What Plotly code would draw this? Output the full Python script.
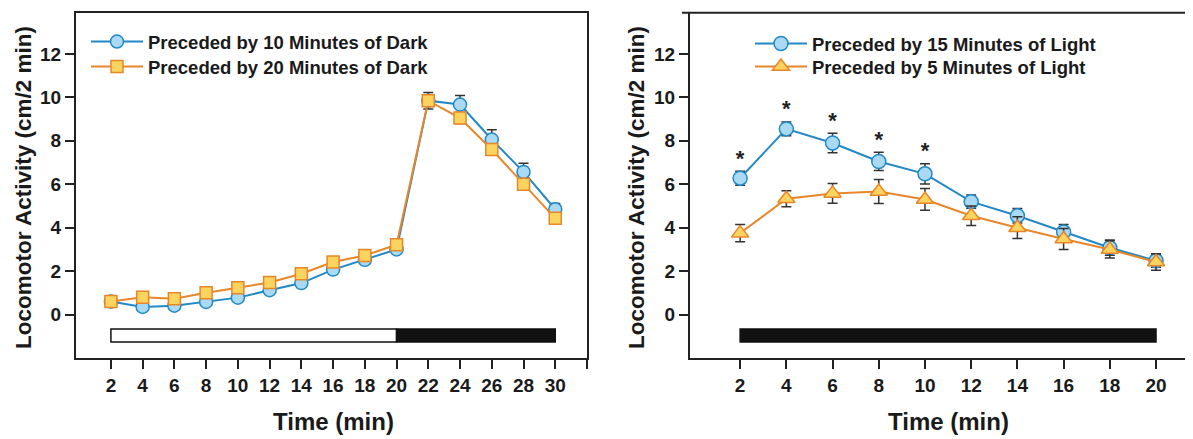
import plotly.graph_objects as go

# ---------------- data ----------------
time_left = [2, 4, 6, 8, 10, 12, 14, 16, 18, 20, 22, 24, 26, 28, 30]
dark10_mean = [0.60, 0.35, 0.41, 0.58, 0.78, 1.12, 1.45, 2.07, 2.52, 3.00, 9.85, 9.67, 8.06, 6.57, 4.85]
dark10_err = [0.10, 0.10, 0.10, 0.10, 0.10, 0.12, 0.12, 0.12, 0.12, 0.12, 0.38, 0.42, 0.45, 0.40, 0.26]
dark20_mean = [0.60, 0.80, 0.73, 1.00, 1.23, 1.48, 1.88, 2.42, 2.72, 3.22, 9.85, 9.05, 7.60, 6.00, 4.43]
dark20_err = [0.10, 0.10, 0.10, 0.10, 0.10, 0.10, 0.12, 0.12, 0.12, 0.15, 0.25, 0.25, 0.25, 0.25, 0.20]

time_right = [2, 4, 6, 8, 10, 12, 14, 16, 18, 20]
light15_mean = [6.28, 8.55, 7.90, 7.05, 6.48, 5.20, 4.55, 3.80, 3.08, 2.48]
light15_err = [0.32, 0.32, 0.45, 0.42, 0.47, 0.30, 0.33, 0.35, 0.35, 0.30]
light5_mean = [3.75, 5.33, 5.58, 5.67, 5.30, 4.55, 4.00, 3.48, 3.00, 2.42]
light5_err = [0.40, 0.37, 0.45, 0.55, 0.50, 0.45, 0.50, 0.48, 0.40, 0.38]
signif_times = [2, 4, 6, 8, 10]

left_ticks = [2, 4, 6, 8, 10, 12, 14, 16, 18, 20, 22, 24, 26, 28, 30]
right_ticks = [2, 4, 6, 8, 10, 12, 14, 16, 18, 20]
y_ticks = [0, 2, 4, 6, 8, 10, 12]

# lighting phase bars: start, end, colour
left_phase_start = [2, 20]
left_phase_end = [20, 30]
left_phase_color = ["white", "#111111"]
right_phase_start = [2]
right_phase_end = [20]
right_phase_color = ["#111111"]

# ---------------- style ----------------
PAGE_MARGIN = 8            # default body margin of the page
W, H = 1193 - PAGE_MARGIN, 439 - PAGE_MARGIN
FONT = "Liberation Sans, Arial, sans-serif"
AX = "#222222"
TXT = "#1a1a1a"
BLUE_LINE = "#2288c6"
BLUE_FILL = "#a9d9f3"
ORANGE_LINE = "#e8862a"
YELLOW_FILL = "#fbd35f"
ERR = "#333333"


def px(x):
    """page pixel x -> paper fraction"""
    return (x - PAGE_MARGIN) / W


def py(y):
    """page pixel y -> paper fraction"""
    return 1 - (y - PAGE_MARGIN) / H


fig = go.Figure()


def series(x, y, e, name, symbol, size, fill, line, xa, ya, legend):
    fig.add_trace(go.Scatter(
        x=x, y=y, name=name, mode="lines+markers",
        line=dict(color=line, width=2),
        marker=dict(symbol=symbol, size=size, color=fill, line=dict(color=line, width=1.5)),
        error_y=dict(type="data", array=e, visible=True, color=ERR, thickness=1.5, width=5),
        xaxis=xa, yaxis=ya, legend=legend,
    ))


def phase_bar(starts, ends, colors, xa, ya):
    fig.add_trace(go.Bar(
        orientation="h",
        base=starts,
        x=[e - s for s, e in zip(starts, ends)],
        y=[-0.96] * len(starts),
        width=0.6,
        marker=dict(color=colors, line=dict(color="#111111", width=1.5)),
        showlegend=False, hoverinfo="skip",
        xaxis=xa, yaxis=ya,
    ))


# left panel
phase_bar(left_phase_start, left_phase_end, left_phase_color, "x", "y")
series(time_left, dark10_mean, dark10_err, "Preceded by 10 Minutes of Dark",
       "circle", 13, BLUE_FILL, BLUE_LINE, "x", "y", "legend")
series(time_left, dark20_mean, dark20_err, "Preceded by 20 Minutes of Dark",
       "square", 12, YELLOW_FILL, ORANGE_LINE, "x", "y", "legend2")

# right panel
phase_bar(right_phase_start, right_phase_end, right_phase_color, "x2", "y2")
series(time_right, light15_mean, light15_err, "Preceded by 15 Minutes of Light",
       "circle", 14, BLUE_FILL, BLUE_LINE, "x2", "y2", "legend3")
series(time_right, light5_mean, light5_err, "Preceded by 5 Minutes of Light",
       "triangle-up", 15, YELLOW_FILL, ORANGE_LINE, "x2", "y2", "legend4")

star_y = [light15_mean[time_right.index(t)] + light15_err[time_right.index(t)] for t in signif_times]
fig.add_trace(go.Scatter(
    x=signif_times, y=star_y, mode="text", text=["*"] * len(signif_times),
    textposition="top center",
    textfont=dict(family=FONT, size=22, color="#222222", weight="bold"),
    showlegend=False, hoverinfo="skip", xaxis="x2", yaxis="y2",
))

tickfont = dict(family=FONT, size=19, color=TXT, weight="bold")
common_y = dict(
    range=[-2, 13.9], tickvals=y_ticks, showline=True, linecolor=AX, linewidth=2,
    ticks="outside", ticklen=9, tickwidth=2, tickcolor=AX, showgrid=False,
    zeroline=False, tickfont=tickfont, fixedrange=True,
)
common_x = dict(
    showline=True, linecolor=AX, linewidth=2, ticks="outside", ticklen=9,
    tickwidth=2, tickcolor=AX, showgrid=False, zeroline=False, tickfont=tickfont,
)
legend_font = dict(family=FONT, size=18.5, color=TXT, weight="bold")
title_font_y = dict(family=FONT, size=22.5, color=TXT, weight="bold")
title_font_x = dict(family=FONT, size=24, color=TXT, weight="bold")


def legend_at(x, y):
    return dict(x=px(x), y=py(y), xanchor="left", yanchor="middle",
                bgcolor="rgba(0,0,0,0)", itemwidth=52, font=legend_font)


fig.update_layout(
    width=W, height=H,
    margin=dict(l=0, r=0, t=0, b=0),
    paper_bgcolor="white", plot_bgcolor="white",
    barmode="overlay",
    font=dict(family=FONT, color=TXT),
    xaxis=dict(domain=[px(76), px(587)], range=[-0.2, 32.0],
               tickvals=left_ticks + [32], ticktext=[str(t) for t in left_ticks] + [""],
               mirror=True, anchor="y", **common_x),
    yaxis=dict(domain=[py(358), py(12.7)], anchor="x", mirror=True, **common_y),
    xaxis2=dict(domain=[px(690), 1.0], range=[-0.17, 21.6],
                tickvals=right_ticks, ticktext=[str(t) for t in right_ticks],
                mirror=False, anchor="y2", **common_x),
    yaxis2=dict(domain=[py(358), py(12.7)], anchor="x2", mirror=False, **common_y),
    legend=legend_at(86, 42),
    legend2=legend_at(86, 67),
    legend3=legend_at(750, 44),
    legend4=legend_at(750, 67),
    shapes=[
        dict(type="line", xref="paper", yref="y2 domain", x0=px(682), x1=1.0, y0=1, y1=1,
             line=dict(color=AX, width=2)),
    ],
    annotations=[
        dict(text="Locomotor Activity (cm/2 min)", textangle=-90, xref="paper", yref="paper",
             x=px(23), y=py(188), xanchor="center", yanchor="middle", showarrow=False,
             font=title_font_y),
        dict(text="Locomotor Activity (cm/2 min)", textangle=-90, xref="paper", yref="paper",
             x=px(636), y=py(188), xanchor="center", yanchor="middle", showarrow=False,
             font=title_font_y),
        dict(text="Time (min)", xref="paper", yref="paper", x=px(333), y=py(421),
             xanchor="center", yanchor="middle", showarrow=False, font=title_font_x),
        dict(text="Time (min)", xref="paper", yref="paper", x=px(948), y=py(421),
             xanchor="center", yanchor="middle", showarrow=False, font=title_font_x),
    ],
)

fig.write_html("out.html")
